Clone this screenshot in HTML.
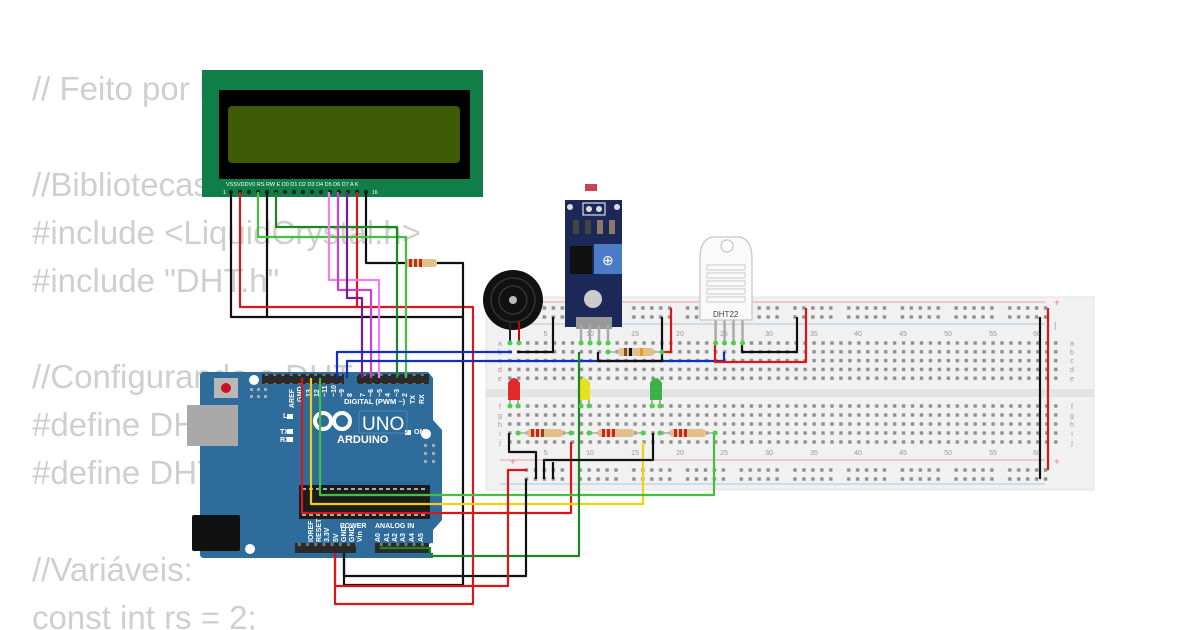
<!DOCTYPE html>
<html><head><meta charset="utf-8"><style>
html,body{margin:0;padding:0;background:#fff;width:1200px;height:630px;overflow:hidden}
svg{display:block}
.code{font-family:"Liberation Sans",sans-serif;font-size:33px;fill:#cfcfcf}
.w{fill:none;stroke-width:2.2;stroke-linejoin:round}
.lbl{font-family:"Liberation Sans",sans-serif;fill:#999;font-size:7px}
.ab{font-family:"Liberation Sans",sans-serif;fill:#fff;font-weight:bold}
</style></head><body>
<svg width="1200" height="630" viewBox="0 0 1200 630" xmlns="http://www.w3.org/2000/svg">
<defs>
<pattern id="term" x="506.3" y="339.5" width="8.95" height="8.8" patternUnits="userSpaceOnUse"><rect x="1.8" y="1.8" width="3.4" height="3.4" fill="#8e8e8e"/></pattern>
<pattern id="term2" x="506.3" y="402.5" width="8.95" height="9" patternUnits="userSpaceOnUse"><rect x="1.8" y="1.8" width="3.4" height="3.4" fill="#8e8e8e"/></pattern>
<pattern id="rail" x="523" y="304.5" width="53.7" height="9" patternUnits="userSpaceOnUse">
<rect x="1.8" y="1.8" width="3.4" height="3.4" fill="#8e8e8e"/><rect x="10.75" y="1.8" width="3.4" height="3.4" fill="#8e8e8e"/><rect x="19.7" y="1.8" width="3.4" height="3.4" fill="#8e8e8e"/><rect x="28.65" y="1.8" width="3.4" height="3.4" fill="#8e8e8e"/><rect x="37.6" y="1.8" width="3.4" height="3.4" fill="#8e8e8e"/></pattern>
<pattern id="rail2" x="523" y="466.5" width="53.7" height="9" patternUnits="userSpaceOnUse">
<rect x="1.8" y="1.8" width="3.4" height="3.4" fill="#8e8e8e"/><rect x="10.75" y="1.8" width="3.4" height="3.4" fill="#8e8e8e"/><rect x="19.7" y="1.8" width="3.4" height="3.4" fill="#8e8e8e"/><rect x="28.65" y="1.8" width="3.4" height="3.4" fill="#8e8e8e"/><rect x="37.6" y="1.8" width="3.4" height="3.4" fill="#8e8e8e"/></pattern>
<pattern id="hdr" x="0" y="0" width="8.2" height="10" patternUnits="userSpaceOnUse"><rect width="8.2" height="10" fill="#2a2a2a"/><rect x="2.6" y="3" width="3" height="3" fill="#777"/></pattern>
</defs>

<!-- code text -->
<text class="code" x="32" y="100">// Feito por Fulano</text>
<text class="code" x="32" y="196">//Bibliotecas</text>
<text class="code" x="32" y="244">#include &lt;LiquidCrystal.h&gt;</text>
<text class="code" x="32" y="292">#include "DHT.h"</text>
<text class="code" x="32" y="388">//Configurando o DHT</text>
<text class="code" x="32" y="436">#define DHTPIN A0</text>
<text class="code" x="32" y="484">#define DHTTYPE DHT22</text>
<text class="code" x="32" y="581">//Variáveis:</text>
<text class="code" x="32" y="629">const int rs = 2;</text>

<!-- breadboard -->
<rect x="486" y="297" width="608" height="193" fill="#f1f1f1" stroke="#e3e3e3"/>
<rect x="486" y="389" width="608" height="8" fill="#e4e4e4"/>
<line x1="500" y1="302" x2="1045" y2="302" stroke="#e6a0a0" stroke-width="1"/>
<line x1="500" y1="324" x2="1045" y2="324" stroke="#a8c8e0" stroke-width="1"/>
<line x1="500" y1="460" x2="1045" y2="460" stroke="#e6a0a0" stroke-width="1"/>
<line x1="500" y1="484" x2="1045" y2="484" stroke="#a8c8e0" stroke-width="1"/>
<text x="1054" y="306" fill="#e08080" font-size="10" font-family="Liberation Sans">+</text>
<text x="1054" y="328" fill="#80a8d0" font-size="9" font-family="Liberation Sans">|</text>
<text x="510" y="465" fill="#e08080" font-size="10" font-family="Liberation Sans">+</text>
<text x="1054" y="465" fill="#e08080" font-size="10" font-family="Liberation Sans">+</text>
<rect x="523" y="304.5" width="533" height="18" fill="url(#rail)"/>
<rect x="523" y="466.5" width="533" height="18" fill="url(#rail2)"/>
<rect x="506.3" y="339.5" width="555" height="44" fill="url(#term)"/>
<rect x="506.3" y="402.5" width="555" height="45" fill="url(#term2)"/>
<g class="lbl" text-anchor="middle">
<text x="500" y="345.5">a</text><text x="500" y="354.5">b</text><text x="500" y="363">c</text><text x="500" y="372">d</text><text x="500" y="381">e</text>
<text x="500" y="409">f</text><text x="500" y="418">g</text><text x="500" y="427">h</text><text x="500" y="436">i</text><text x="500" y="445">j</text>
<text x="1072" y="345.5">a</text><text x="1072" y="354.5">b</text><text x="1072" y="363">c</text><text x="1072" y="372">d</text><text x="1072" y="381">e</text>
<text x="1072" y="409">f</text><text x="1072" y="418">g</text><text x="1072" y="427">h</text><text x="1072" y="436">i</text><text x="1072" y="445">j</text>
<text x="545.6" y="336">5</text><text x="590" y="336">10</text><text x="635" y="336">15</text><text x="680" y="336">20</text><text x="724" y="336">25</text><text x="769" y="336">30</text><text x="814" y="336">35</text><text x="858" y="336">40</text><text x="903" y="336">45</text><text x="948" y="336">50</text><text x="993" y="336">55</text><text x="1037" y="336">60</text>
<text x="545.6" y="455">5</text><text x="590" y="455">10</text><text x="635" y="455">15</text><text x="680" y="455">20</text><text x="724" y="455">25</text><text x="769" y="455">30</text><text x="814" y="455">35</text><text x="858" y="455">40</text><text x="903" y="455">45</text><text x="948" y="455">50</text><text x="993" y="455">55</text><text x="1037" y="455">60</text>
</g>

<!-- Arduino -->
<path d="M204 372 H428 L433 378 V420 L442 430 V520 L433 530 V558 H204 Q200 558 200 554 V376 Q200 372 204 372 Z" fill="#2e6c9c"/>
<rect x="187" y="405" width="51" height="41" fill="#a9a9a9"/>
<rect x="192" y="515" width="48" height="36" rx="2" fill="#111"/>
<rect x="214" y="378" width="24" height="20" fill="#b8b8b8"/>
<circle cx="226" cy="388" r="5" fill="#c8141c"/>
<circle cx="254" cy="380" r="5" fill="#fff"/>
<circle cx="426" cy="434" r="5" fill="#fff"/>
<circle cx="250" cy="549" r="5" fill="#fff"/>
<circle cx="432" cy="548" r="5" fill="#fff"/>
<rect x="250" y="388" width="3" height="3" fill="#aaa"/><rect x="257" y="388" width="3" height="3" fill="#aaa"/><rect x="264" y="388" width="3" height="3" fill="#aaa"/>
<rect x="250" y="395" width="3" height="3" fill="#aaa"/><rect x="257" y="395" width="3" height="3" fill="#aaa"/><rect x="264" y="395" width="3" height="3" fill="#aaa"/>
<rect x="424" y="444" width="3" height="3" fill="#aaa"/><rect x="432" y="444" width="3" height="3" fill="#aaa"/>
<rect x="424" y="452" width="3" height="3" fill="#aaa"/><rect x="432" y="452" width="3" height="3" fill="#aaa"/>
<rect x="424" y="460" width="3" height="3" fill="#aaa"/><rect x="432" y="460" width="3" height="3" fill="#aaa"/>
<rect x="262" y="374" width="82" height="10" fill="url(#hdr)"/>
<rect x="357" y="374" width="72" height="10" fill="url(#hdr)"/>
<rect x="295" y="543" width="61" height="10" fill="url(#hdr)"/>
<rect x="375" y="543" width="54" height="10" fill="url(#hdr)"/>
<rect x="299" y="485" width="131" height="34" fill="#1c1c1c"/>
<line x1="302" y1="489" x2="428" y2="489" stroke="#fff" stroke-dasharray="4 3" stroke-width="1.2"/>
<line x1="302" y1="515" x2="428" y2="515" stroke="#fff" stroke-dasharray="4 3" stroke-width="1.2"/>
<g class="ab" font-size="7">
<text x="344" y="404" font-size="7.5">DIGITAL (PWM ~)</text>
<text transform="translate(294,408) rotate(-90)">AREF</text>
<text transform="translate(302,402) rotate(-90)">GND</text>
<text transform="translate(311,397) rotate(-90)">13</text><text transform="translate(319,397) rotate(-90)">12</text><text transform="translate(327,397) rotate(-90)">~11</text><text transform="translate(336,397) rotate(-90)">~10</text><text transform="translate(344,397) rotate(-90)">~9</text><text transform="translate(352,397) rotate(-90)">8</text>
<text transform="translate(365,397) rotate(-90)">7</text><text transform="translate(373,397) rotate(-90)">~6</text><text transform="translate(382,397) rotate(-90)">~5</text><text transform="translate(390,397) rotate(-90)">4</text><text transform="translate(399,397) rotate(-90)">~3</text><text transform="translate(407,397) rotate(-90)">2</text><text transform="translate(415,404) rotate(-90)">TX</text><text transform="translate(424,404) rotate(-90)">RX</text>
<text x="283" y="418">L</text><text x="280" y="434">TX</text><text x="280" y="442">RX</text>
<text x="414" y="434">ON</text>
<text x="340" y="528" font-size="7">POWER</text><text x="375" y="528" font-size="7">ANALOG IN</text>
<text transform="translate(313,542) rotate(-90)">IOREF</text><text transform="translate(321,542) rotate(-90)">RESET</text><text transform="translate(329,542) rotate(-90)">3.3V</text><text transform="translate(338,542) rotate(-90)">5V</text><text transform="translate(346,542) rotate(-90)">GND</text><text transform="translate(354,542) rotate(-90)">GND</text><text transform="translate(362,542) rotate(-90)">Vin</text>
<text transform="translate(380,542) rotate(-90)">A0</text><text transform="translate(389,542) rotate(-90)">A1</text><text transform="translate(397,542) rotate(-90)">A2</text><text transform="translate(405,542) rotate(-90)">A3</text><text transform="translate(414,542) rotate(-90)">A4</text><text transform="translate(423,542) rotate(-90)">A5</text>
</g>
<rect x="287" y="414" width="6" height="5" fill="#fff"/><rect x="287" y="429" width="6" height="5" fill="#fff"/><rect x="287" y="437" width="6" height="5" fill="#fff"/><rect x="405" y="430" width="6" height="5" fill="#fff"/>
<g fill="none" stroke="#fff" stroke-width="4"><circle cx="323" cy="421" r="8"/><circle cx="342" cy="421" r="8"/></g>
<text x="337" y="443" class="ab" font-size="11">ARDUINO</text>
<rect x="359" y="411" width="48" height="22" rx="2" fill="none" stroke="#4b87b6" stroke-width="1"/>
<text x="362" y="430" font-family="Liberation Sans" font-size="19" fill="#fff">UNO</text>

<!-- LCD -->
<rect x="202" y="70" width="281" height="127" fill="#107e48"/>
<rect x="219" y="90" width="251" height="89" fill="#000"/>
<rect x="228" y="106" width="232" height="57" rx="4" fill="#3d5a07"/>
<text x="226" y="186" font-family="Liberation Sans" font-size="5.5" fill="#fff">VSSVDDV0 RS RW E D0 D1 D2 D3 D4 D5 D6 D7 A  K</text>
<text x="223" y="194" font-family="Liberation Sans" font-size="5" fill="#fff">1</text>
<text x="372" y="194" font-family="Liberation Sans" font-size="5" fill="#fff">16</text>
<g fill="#222"><circle cx="231" cy="192" r="2.2"/><circle cx="240" cy="192" r="2.2"/><circle cx="249" cy="192" r="2.2"/><circle cx="258" cy="192" r="2.2"/><circle cx="267" cy="192" r="2.2"/><circle cx="276" cy="192" r="2.2"/><circle cx="285" cy="192" r="2.2"/><circle cx="294" cy="192" r="2.2"/><circle cx="303" cy="192" r="2.2"/><circle cx="312" cy="192" r="2.2"/><circle cx="321" cy="192" r="2.2"/><circle cx="330" cy="192" r="2.2"/><circle cx="339" cy="192" r="2.2"/><circle cx="348" cy="192" r="2.2"/><circle cx="357" cy="192" r="2.2"/><circle cx="366" cy="192" r="2.2"/></g>

<!-- Buzzer -->
<circle cx="513" cy="300" r="30" fill="#111"/>
<circle cx="513" cy="300" r="22" fill="none" stroke="#333" stroke-width="1.5"/>
<circle cx="513" cy="300" r="14" fill="none" stroke="#333" stroke-width="1.5"/>
<circle cx="513" cy="300" r="4" fill="#bbb"/>
<line x1="519" y1="322" x2="519" y2="343" stroke="#c00" stroke-width="2"/>
<line x1="510" y1="322" x2="510" y2="343" stroke="#222" stroke-width="2"/>

<!-- LDR module -->
<rect x="585" y="184" width="12" height="7" fill="#c84450"/>
<rect x="565" y="200" width="57" height="127" fill="#1b2858"/>
<rect x="583" y="203" width="22" height="12" fill="none" stroke="#fff" stroke-width="1"/>
<circle cx="589" cy="209" r="3" fill="#ddd"/><circle cx="599" cy="209" r="3" fill="#ddd"/>
<circle cx="570" cy="207" r="3" fill="#ddd"/><circle cx="617" cy="207" r="3" fill="#ddd"/>
<rect x="573" y="220" width="6" height="14" fill="#444"/><rect x="585" y="220" width="6" height="14" fill="#444"/><rect x="597" y="220" width="6" height="14" fill="#8a7868"/><rect x="609" y="220" width="6" height="14" fill="#8a7868"/>
<rect x="570" y="246" width="22" height="28" fill="#111"/>
<rect x="594" y="244" width="28" height="30" fill="#4a7cc8"/>
<text x="602" y="265" fill="#fff" font-size="14" font-family="Liberation Sans">⊕</text>
<circle cx="593" cy="299" r="9" fill="#ccc"/>
<rect x="576" y="317" width="36" height="12" fill="#999"/>
<g stroke="#aaa" stroke-width="2.5"><line x1="581" y1="325" x2="581" y2="343"/><line x1="590" y1="325" x2="590" y2="343"/><line x1="599" y1="325" x2="599" y2="343"/><line x1="608" y1="325" x2="608" y2="343"/></g>

<!-- DHT22 -->
<g stroke="#aaa" stroke-width="2.5"><line x1="715.6" y1="318" x2="715.6" y2="343"/><line x1="724.6" y1="318" x2="724.6" y2="343"/><line x1="733.5" y1="318" x2="733.5" y2="343"/><line x1="742.5" y1="318" x2="742.5" y2="343"/></g>
<path d="M700 320 V258 Q700 240 712 237 H740 Q752 240 752 258 V320 Z" fill="#fafafa" stroke="#bbb"/>
<circle cx="727" cy="246" r="6" fill="#fff" stroke="#bbb"/>
<g fill="none" stroke="#ccc" stroke-width="1"><rect x="707" y="265" width="38" height="5"/><rect x="707" y="273" width="38" height="5"/><rect x="707" y="281" width="38" height="5"/><rect x="707" y="289" width="38" height="5"/><rect x="707" y="297" width="38" height="5"/></g>
<text x="713" y="317" font-size="8" font-family="Liberation Sans" fill="#444">DHT22</text>

<!-- LEDs -->
<path d="M508 400 V383 Q514 373 520 383 V400 Z" fill="#e02a2a"/>
<path d="M578 400 V383 Q584 373 590 383 V400 Z" fill="#e8e020"/>
<path d="M650 400 V383 Q656 373 662 383 V400 Z" fill="#3cb04a"/>
<g stroke="#999" stroke-width="1.5"><line x1="510" y1="400" x2="510" y2="406"/><line x1="518" y1="400" x2="518" y2="406"/><line x1="581" y1="400" x2="581" y2="406"/><line x1="589" y1="400" x2="589" y2="406"/><line x1="652" y1="400" x2="652" y2="406"/><line x1="660" y1="400" x2="660" y2="406"/></g>

<!-- Resistors -->
<g>
<line x1="518" y1="433" x2="571" y2="433" stroke="#aaa" stroke-width="1.5"/>
<rect x="527" y="429" width="36" height="8" rx="3" fill="#e2c08a"/><rect x="531" y="429" width="3" height="8" fill="#c22"/><rect x="536" y="429" width="3" height="8" fill="#c22"/><rect x="541" y="429" width="3" height="8" fill="#8a4a20"/>
<line x1="589" y1="433" x2="643" y2="433" stroke="#aaa" stroke-width="1.5"/>
<rect x="598" y="429" width="36" height="8" rx="3" fill="#e2c08a"/><rect x="602" y="429" width="3" height="8" fill="#c22"/><rect x="607" y="429" width="3" height="8" fill="#c22"/><rect x="612" y="429" width="3" height="8" fill="#c22"/>
<line x1="660" y1="433" x2="715" y2="433" stroke="#aaa" stroke-width="1.5"/>
<rect x="670" y="429" width="36" height="8" rx="3" fill="#e2c08a"/><rect x="674" y="429" width="3" height="8" fill="#c22"/><rect x="679" y="429" width="3" height="8" fill="#c22"/><rect x="684" y="429" width="3" height="8" fill="#c22"/>
<line x1="608" y1="352" x2="662" y2="352" stroke="#aaa" stroke-width="1.5"/>
<rect x="618" y="348" width="36" height="8" rx="3" fill="#e2c08a"/><rect x="624" y="348" width="3" height="8" fill="#8a4a20"/><rect x="629" y="348" width="3" height="8" fill="#111"/><rect x="640" y="348" width="3" height="8" fill="#e59a20"/>
<line x1="400" y1="263" x2="442" y2="263" stroke="#aaa" stroke-width="1.5"/>
<rect x="405" y="259" width="32" height="8" rx="3" fill="#e2c08a"/><rect x="409" y="259" width="3" height="8" fill="#c22"/><rect x="414" y="259" width="3" height="8" fill="#8a4a20"/><rect x="419" y="259" width="3" height="8" fill="#c22"/>
</g>

<!-- Wires -->
<g class="w">
<path stroke="#111" d="M231 192 V317 H463 V585 H344 V553"/>
<path stroke="#111" d="M267 192 V317"/>
<path stroke="#d81818" d="M240 192 V307 H473 V604 H335 V553"/>
<path stroke="#d81818" d="M357 192 V307"/>
<path stroke="#111" d="M366 192 V263 H405 M437 263 H463 V317"/>
<path stroke="#44c040" d="M258 192 V237 H406 V378"/>
<path stroke="#1a8a20" d="M276 192 V227 H397 V378"/>
<path stroke="#f080f0" d="M329 192 V280 H379 V378"/>
<path stroke="#d040d0" d="M338 192 V290 H371 V378"/>
<path stroke="#7a1a9a" d="M347 192 V298 H362 V378"/>
<path stroke="#1030c0" d="M337 378 V352 H512"/>
<path stroke="#1030c0" d="M347 378 V361 H724 V352"/>
<path stroke="#d81818" d="M302 378 V513 H571 V442"/>
<path stroke="#f0d010" d="M311 378 V504 H643 V442"/>
<path stroke="#44c040" d="M320 378 V495 H714 V433"/>
<path stroke="#1a8a20" d="M380 548 H430 V556 H579 V352"/>
<path stroke="#111" d="M344 553 V576 H526 V479"/>
<path stroke="#d81818" d="M335 553 V586 H508 V470 H527"/>
<path stroke="#111" d="M517 352 H553 V317"/>
<path stroke="#111" d="M598 352 V361 H662 V317"/>
<path stroke="#d81818" d="M660 352 H671 V308"/>
<path stroke="#d81818" d="M715 343 V362 H806 V308"/>
<path stroke="#111" d="M742 343 V352 H797 V317"/>
<path stroke="#111" d="M1040 317 V479"/>
<path stroke="#d81818" d="M1048 308 V470"/>
<path stroke="#111" d="M509 433 V452 H536 V479"/>
<path stroke="#111" d="M544 479 V460 H653 V433"/>
<path stroke="#111" d="M553 479 V462"/>
</g>
<g fill="#4ad04a">
<circle cx="510" cy="343" r="2.5"/><circle cx="519" cy="343" r="2.5"/><circle cx="581" cy="343" r="2.5"/><circle cx="590" cy="343" r="2.5"/><circle cx="599" cy="343" r="2.5"/><circle cx="608" cy="343" r="2.5"/>
<circle cx="715.6" cy="343" r="2.5"/><circle cx="724.6" cy="343" r="2.5"/><circle cx="733.5" cy="343" r="2.5"/><circle cx="742.5" cy="343" r="2.5"/>
<circle cx="510" cy="406" r="2.5"/><circle cx="518" cy="406" r="2.5"/><circle cx="581" cy="406" r="2.5"/><circle cx="589" cy="406" r="2.5"/><circle cx="652" cy="406" r="2.5"/><circle cx="660" cy="406" r="2.5"/>
<circle cx="518" cy="433" r="2.5"/><circle cx="571" cy="433" r="2.5"/><circle cx="589" cy="433" r="2.5"/><circle cx="643" cy="433" r="2.5"/><circle cx="660" cy="433" r="2.5"/><circle cx="715" cy="433" r="2.5"/>
<circle cx="608" cy="352" r="2.5"/><circle cx="662" cy="352" r="2.5"/>
</g>
</svg>
</body></html>
